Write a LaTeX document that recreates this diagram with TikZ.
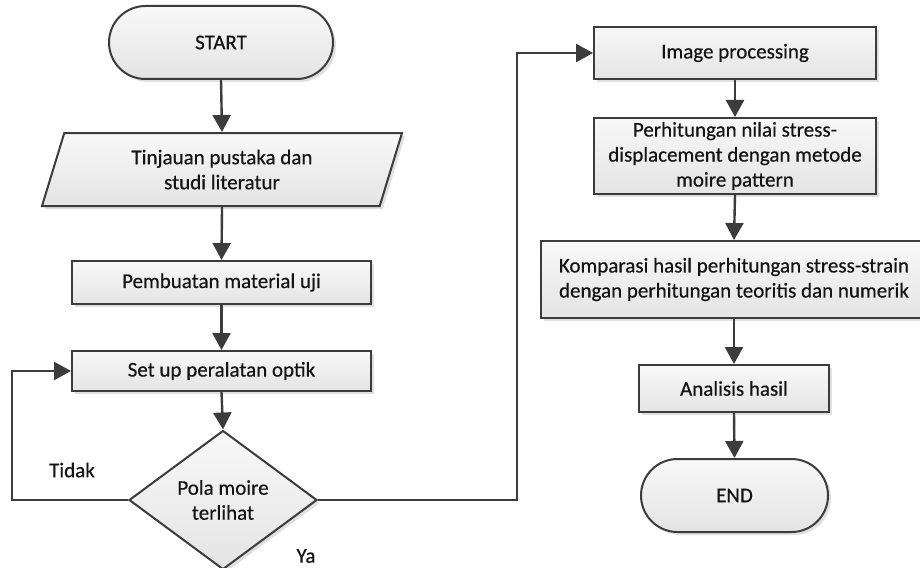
\documentclass[tikz,border=0pt]{standalone}
\usepackage{fontspec}
\setmainfont{Carlito}[BoldFont=Carlito, BoldFeatures={FakeBold=0.45}]
\usetikzlibrary{shapes.geometric,shapes.misc,arrows.meta,shadows}
\definecolor{linec}{HTML}{3C3C3C}
\definecolor{txtc}{HTML}{141414}
\definecolor{filltop}{HTML}{F8F8F8}
\definecolor{fillbot}{HTML}{E4E4E4}
\tikzset{
  base/.style={draw=linec, line width=2pt, top color=filltop, bottom color=fillbot,
    text=txtc, align=center, inner sep=2pt,
    font=\fontsize{21}{25}\selectfont\bfseries,
    drop shadow={shadow xshift=3pt, shadow yshift=-3pt, fill=black, opacity=0.12}},
  procbox/.style={base, rectangle},
  termbox/.style={base, rounded rectangle},
  iobox/.style={base, trapezium, trapezium left angle=63, trapezium right angle=117, trapezium stretches body},
  decbox/.style={base, diamond},
  conn/.style={draw=linec, line width=2.4pt, -{Triangle[length=17pt, width=18pt]}},
  lbl/.style={text=txtc, inner sep=0pt, font=\fontsize{21}{25}\selectfont\bfseries}
}
\begin{document}
\begin{tikzpicture}[x=1pt,y=-1pt]
\useasboundingbox[fill=white] (0,0) rectangle (920,567);
% left column
\node[termbox, minimum width=228pt, minimum height=73pt] (start) at (221,42.5) {START};
\node[iobox, minimum width=360pt, minimum height=73pt] (tin) at (222,169.5) {Tinjauan pustaka dan\\studi literatur};
\node[procbox, minimum width=299pt, minimum height=43pt] (pem) at (221.5,282.5) {Pembuatan material uji};
\node[procbox, minimum width=299pt, minimum height=40pt] (set) at (221.5,371) {Set up peralatan optik};
\node[decbox, minimum width=188pt, minimum height=131pt] (dec) at (223,500) {Pola moire\\terlihat};
% right column
\node[procbox, minimum width=282pt, minimum height=52pt] (img) at (735,53) {Image processing};
\node[procbox, minimum width=282pt, minimum height=76pt] (per) at (735,156) {Perhitungan nilai stress-\\displacement dengan metode\\moire pattern};
\node[procbox, minimum width=386pt, minimum height=77pt] (kom) at (734,279.5) {Komparasi hasil perhitungan stress-strain\\dengan perhitungan teoritis dan numerik};
\node[procbox, minimum width=190pt, minimum height=47pt] (ana) at (734,388.5) {Analisis hasil};
\node[termbox, minimum width=191pt, minimum height=73pt] (fin) at (734.5,495.5) {END};
% labels
\node[lbl] (tidak) at (72,470) {Tidak};
\node[lbl] (ya) at (306,556) {Ya};
% connector corners
\coordinate (lp) at (12,500);
\coordinate (rp) at (517,500);
% connectors
\draw[conn] (start.south) -- (tin.north);
\draw[conn] (tin.south) -- (pem.north);
\draw[conn] (pem.south) -- (set.north);
\draw[conn] (set.south) -- (dec.north);
\draw[conn] (dec.west) -- (lp) |- (set.west);
\draw[conn] (dec.east) -- (rp) |- (img.west);
\draw[conn] (img.south) -- (per.north);
\draw[conn] (per.south) -- (kom.north);
\draw[conn] (kom.south) -- (ana.north);
\draw[conn] (ana.south) -- (fin.north);
\end{tikzpicture}
\end{document}
